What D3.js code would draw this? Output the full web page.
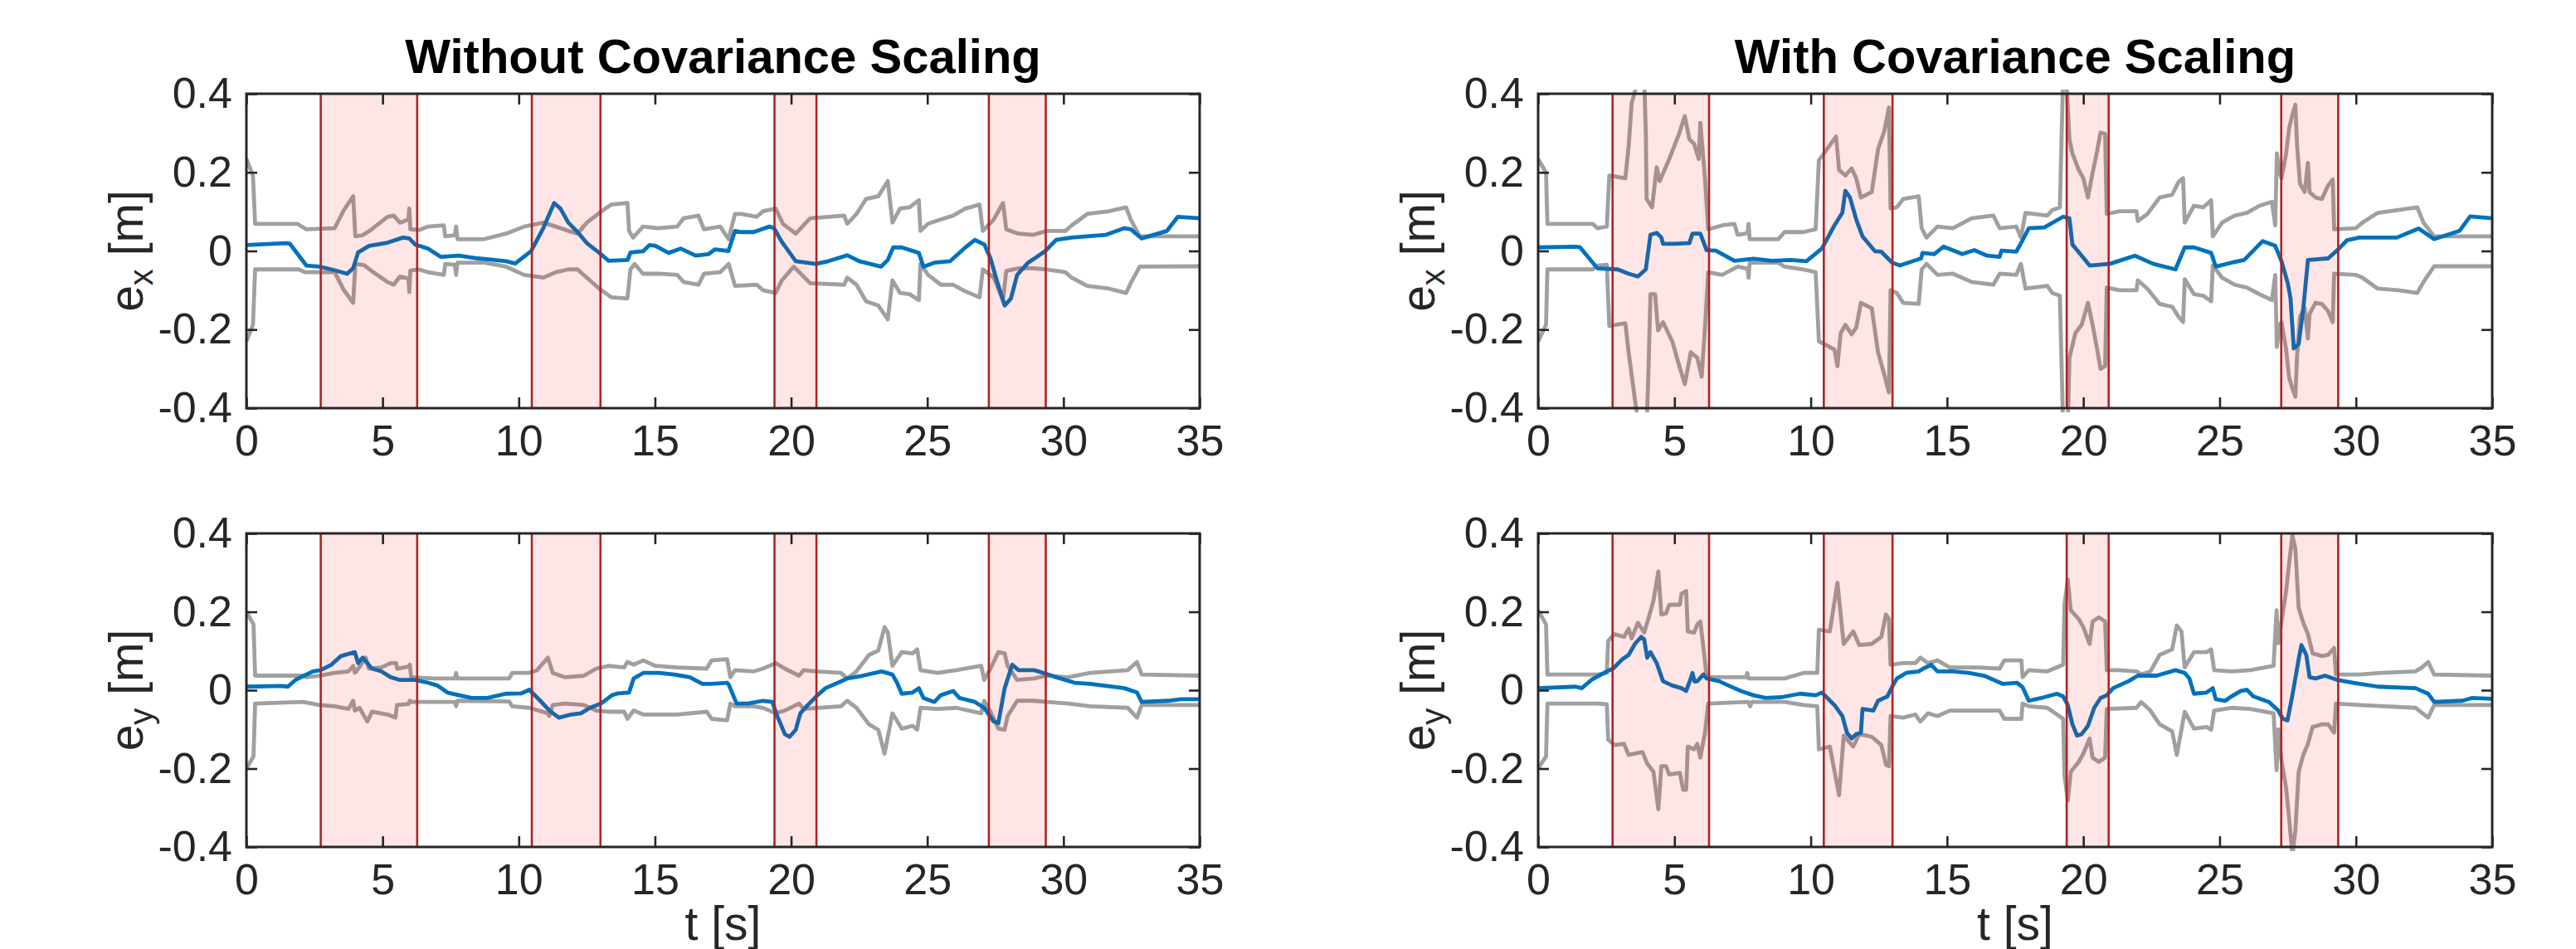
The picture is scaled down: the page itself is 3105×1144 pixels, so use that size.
<!DOCTYPE html>
<html><head><meta charset="utf-8">
<script src="https://cdn.jsdelivr.net/npm/d3@7"></script>
<style>
body{margin:0;background:#fff}
svg{display:block}
text{font-family:"Liberation Sans",Arial,Helvetica,sans-serif}
</style>
</head><body>
<svg id="chart" width="3105" height="1144"></svg>
<script>
// ---------------- data ----------------
const xTicks = [0,5,10,15,20,25,30,35];
const yTicks = [-0.4,-0.2,0,0.2,0.4];
const yTickLabels = ["-0.4","-0.2","0","0.2","0.4"];
const titles = ["Without Covariance Scaling","With Covariance Scaling"];
const xLabel = "t [s]";
const yLabelComponents = ["x","y"];
const shadeIntervals = [[2.73,6.27],[10.48,13.0],[19.39,20.93],[27.26,29.35]];

// e_x without covariance scaling: [t, value]
const exNo = [[0,0.015],[1.46,0.02],[1.6,0.018],[2.2,-0.037],[2.67,-0.04],[3.12,-0.047],[3.7,-0.058],[3.92,-0.044],[4.1,-0.004],[4.5,0.013],[5.18,0.021],[5.75,0.034],[5.98,0.032],[6.2,0.016],[6.67,0.006],[7.13,-0.015],[7.8,-0.012],[8.5,-0.019],[8.96,-0.022],[9.53,-0.026],[9.87,-0.032],[10.45,-0.001],[10.9,0.058],[11.3,0.122],[11.53,0.108],[11.82,0.072],[12.16,0.048],[12.5,0.02],[12.96,-0.005],[13.3,-0.025],[14.0,-0.023],[14.1,-0.004],[14.56,-0.001],[14.8,0.015],[15.02,0.013],[15.5,-0.005],[15.94,0.006],[16.5,-0.012],[16.97,-0.008],[17.2,0.004],[17.7,0.0],[17.94,0.051],[18.17,0.048],[18.63,0.048],[19.2,0.062],[19.37,0.058],[19.66,0.023],[20.17,-0.026],[20.9,-0.033],[21.37,-0.026],[22.06,-0.011],[22.5,-0.026],[23.3,-0.04],[23.55,-0.023],[23.75,0.009],[24.06,0.009],[24.69,-0.005],[24.86,-0.04],[25.26,-0.03],[25.84,-0.026],[26.4,0.009],[26.75,0.028],[27.1,0.016],[27.32,-0.019],[27.55,-0.075],[27.84,-0.139],[28.07,-0.121],[28.3,-0.061],[28.7,-0.03],[29.32,-0.001],[29.73,0.028],[30.3,0.034],[30.87,0.037],[31.56,0.041],[32.24,0.058],[32.47,0.055],[32.87,0.032],[33.8,0.051],[34.2,0.087],[35,0.083]];
const exNoUp = [[0,0.234],[0.24,0.192],[0.32,0.069],[1.87,0.069],[2.2,0.055],[3.24,0.058],[3.58,0.104],[3.92,0.139],[4.0,0.037],[4.27,0.04],[4.6,0.055],[5.18,0.087],[5.41,0.09],[5.64,0.072],[5.95,0.08],[5.98,0.108],[6.02,0.055],[6.33,0.053],[6.67,0.062],[7.25,0.065],[7.3,0.037],[7.65,0.04],[7.7,0.062],[7.75,0.03],[8.73,0.03],[9.53,0.044],[10.2,0.062],[10.9,0.072],[11.36,0.062],[11.82,0.051],[12.16,0.044],[12.5,0.072],[12.96,0.097],[13.4,0.118],[13.99,0.122],[14.05,0.051],[14.2,0.034],[14.56,0.062],[15.13,0.058],[15.82,0.062],[16.05,0.083],[16.6,0.09],[16.8,0.055],[17.4,0.062],[17.7,0.03],[17.94,0.094],[18.17,0.094],[18.74,0.087],[18.97,0.101],[19.43,0.108],[19.7,0.069],[20.17,0.044],[20.7,0.083],[21.95,0.09],[22.06,0.069],[22.4,0.094],[22.75,0.132],[23.2,0.139],[23.55,0.178],[23.72,0.072],[24.0,0.108],[24.35,0.111],[24.69,0.129],[24.75,0.051],[25.03,0.069],[25.5,0.08],[25.95,0.09],[26.4,0.108],[26.92,0.118],[27.04,0.051],[27.44,0.08],[27.78,0.122],[27.9,0.055],[28.35,0.044],[28.9,0.041],[29.38,0.051],[30.07,0.051],[30.3,0.065],[30.87,0.094],[31.67,0.101],[32.3,0.111],[32.47,0.08],[32.8,0.037],[35,0.037]];
const exNoLo = [[0,-0.23],[0.24,-0.188],[0.32,-0.047],[1.92,-0.047],[2.15,-0.054],[3.24,-0.054],[3.58,-0.1],[3.92,-0.132],[4.0,-0.033],[4.32,-0.036],[4.6,-0.051],[5.18,-0.079],[5.41,-0.086],[5.64,-0.065],[5.95,-0.07],[5.98,-0.104],[6.02,-0.05],[6.33,-0.047],[6.67,-0.054],[7.25,-0.061],[7.3,-0.033],[7.65,-0.035],[7.7,-0.061],[7.75,-0.03],[8.73,-0.03],[9.53,-0.04],[10.2,-0.061],[10.9,-0.068],[11.36,-0.054],[11.82,-0.047],[12.16,-0.047],[12.5,-0.068],[12.96,-0.096],[13.4,-0.118],[13.99,-0.121],[14.1,-0.047],[14.25,-0.033],[14.56,-0.058],[15.13,-0.058],[15.82,-0.061],[16.05,-0.079],[16.6,-0.086],[16.8,-0.058],[17.4,-0.054],[17.71,-0.033],[17.94,-0.089],[18.74,-0.086],[18.97,-0.1],[19.43,-0.107],[19.66,-0.075],[20.1,-0.04],[20.7,-0.082],[21.95,-0.086],[22.06,-0.068],[22.4,-0.086],[22.75,-0.128],[23.2,-0.139],[23.55,-0.174],[23.72,-0.075],[24.0,-0.107],[24.35,-0.11],[24.69,-0.125],[24.75,-0.033],[25.03,-0.061],[25.5,-0.086],[25.95,-0.086],[26.4,-0.103],[26.92,-0.118],[27.04,-0.047],[27.44,-0.068],[27.78,-0.125],[27.9,-0.051],[28.35,-0.044],[28.9,-0.044],[29.38,-0.047],[30.07,-0.054],[30.3,-0.068],[30.87,-0.089],[31.67,-0.096],[32.3,-0.107],[32.47,-0.082],[32.8,-0.04],[35,-0.039]];

// e_x with covariance scaling
const exSc = [[0,0.009],[1.37,0.011],[1.54,0.009],[2.17,-0.044],[2.92,-0.047],[3.32,-0.058],[3.66,-0.065],[3.95,-0.047],[4.12,0.041],[4.35,0.046],[4.52,0.034],[4.58,0.018],[5.03,0.018],[5.55,0.02],[5.66,0.044],[5.95,0.044],[6.18,0.002],[6.52,0.001],[7.2,-0.025],[7.9,-0.02],[8.58,-0.025],[9.27,-0.023],[9.84,-0.026],[10.41,0.006],[10.87,0.065],[11.16,0.097],[11.27,0.153],[11.44,0.136],[11.67,0.08],[11.9,0.037],[12.36,-0.001],[12.59,-0.002],[12.99,-0.03],[13.27,-0.037],[14.05,-0.019],[14.1,-0.005],[14.53,-0.008],[14.87,0.011],[15.56,-0.008],[16.0,0.002],[16.47,-0.012],[16.93,-0.015],[17.0,0.001],[17.54,-0.002],[17.77,0.027],[18.0,0.058],[18.57,0.06],[19.26,0.087],[19.49,0.083],[19.6,0.016],[19.94,-0.012],[20.23,-0.037],[20.97,-0.033],[21.89,-0.012],[22.57,-0.033],[23.38,-0.047],[23.72,0.009],[24.06,0.009],[24.69,-0.005],[24.86,-0.04],[25.43,-0.03],[25.9,-0.023],[26.58,0.025],[27.04,0.013],[27.27,-0.026],[27.5,-0.082],[27.6,-0.12],[27.72,-0.248],[27.9,-0.237],[28.07,-0.146],[28.24,-0.023],[28.98,-0.019],[29.32,0.002],[29.67,0.027],[30.13,0.034],[30.8,0.034],[31.5,0.034],[32.3,0.057],[32.87,0.03],[33.8,0.051],[34.19,0.088],[35,0.083]];
const exScUp = [[0,0.234],[0.29,0.199],[0.34,0.069],[2.0,0.069],[2.17,0.058],[2.52,0.062],[2.61,0.192],[3.2,0.185],[3.32,0.266],[3.43,0.375],[3.6,0.42],[3.89,0.44],[3.95,0.3],[3.98,0.132],[4.18,0.111],[4.35,0.213],[4.46,0.178],[4.81,0.234],[5.15,0.294],[5.38,0.343],[5.55,0.284],[5.72,0.273],[5.89,0.234],[5.95,0.326],[6.12,0.185],[6.24,0.055],[6.75,0.065],[7.2,0.069],[7.32,0.041],[7.68,0.045],[7.72,0.069],[7.76,0.03],[8.81,0.03],[9.04,0.048],[9.73,0.048],[10.18,0.055],[10.3,0.231],[10.93,0.291],[11.04,0.206],[11.27,0.192],[11.5,0.21],[11.67,0.185],[11.84,0.136],[12.24,0.15],[12.47,0.259],[12.7,0.305],[12.87,0.365],[12.93,0.108],[13.16,0.111],[13.39,0.132],[13.96,0.139],[14.07,0.058],[14.25,0.034],[14.65,0.062],[15.22,0.058],[15.9,0.083],[16.7,0.09],[16.93,0.058],[17.54,0.062],[17.71,0.034],[17.88,0.097],[18.68,0.09],[18.86,0.104],[19.14,0.111],[19.26,0.45],[19.37,0.45],[19.49,0.284],[19.6,0.248],[19.83,0.206],[20.0,0.185],[20.17,0.136],[20.34,0.199],[20.51,0.255],[20.63,0.301],[20.8,0.298],[20.86,0.094],[21.32,0.101],[21.95,0.101],[22.0,0.076],[22.35,0.094],[22.8,0.136],[23.26,0.143],[23.49,0.175],[23.66,0.185],[23.72,0.072],[24.06,0.115],[24.4,0.111],[24.69,0.129],[24.75,0.037],[25.09,0.072],[25.55,0.09],[26.0,0.097],[26.46,0.115],[26.92,0.125],[27.04,0.065],[27.1,0.248],[27.2,0.2],[27.27,0.185],[27.44,0.248],[27.55,0.312],[27.67,0.347],[27.78,0.372],[27.84,0.27],[27.95,0.171],[28.12,0.15],[28.24,0.224],[28.3,0.15],[28.52,0.136],[28.75,0.132],[28.98,0.167],[29.15,0.182],[29.2,0.055],[30.0,0.058],[30.24,0.072],[30.8,0.097],[31.56,0.104],[32.25,0.111],[32.48,0.072],[32.87,0.037],[35,0.037]];
const exScLo = [[0,-0.23],[0.29,-0.188],[0.34,-0.047],[2.0,-0.047],[2.17,-0.037],[2.52,-0.035],[2.61,-0.191],[3.2,-0.184],[3.32,-0.258],[3.55,-0.378],[3.7,-0.45],[3.98,-0.45],[4.05,-0.3],[4.12,-0.11],[4.29,-0.11],[4.4,-0.202],[4.58,-0.181],[4.92,-0.23],[5.15,-0.286],[5.38,-0.339],[5.6,-0.258],[5.84,-0.272],[6.0,-0.32],[6.12,-0.195],[6.24,-0.054],[6.75,-0.061],[7.32,-0.04],[7.68,-0.045],[7.72,-0.068],[7.76,-0.03],[8.81,-0.03],[9.04,-0.04],[9.73,-0.047],[10.18,-0.054],[10.3,-0.23],[10.87,-0.251],[10.98,-0.293],[11.1,-0.209],[11.27,-0.188],[11.5,-0.212],[11.67,-0.195],[11.84,-0.132],[12.24,-0.146],[12.47,-0.258],[12.7,-0.315],[12.87,-0.36],[12.93,-0.1],[13.16,-0.107],[13.39,-0.132],[13.96,-0.135],[14.07,-0.047],[14.25,-0.033],[14.65,-0.061],[15.22,-0.058],[15.9,-0.079],[16.7,-0.086],[16.93,-0.058],[17.54,-0.061],[17.71,-0.033],[17.88,-0.096],[18.68,-0.089],[18.86,-0.107],[19.14,-0.114],[19.26,-0.45],[19.43,-0.45],[19.49,-0.272],[19.71,-0.209],[19.94,-0.188],[20.17,-0.132],[20.34,-0.188],[20.51,-0.251],[20.63,-0.3],[20.8,-0.293],[20.86,-0.093],[21.32,-0.1],[21.95,-0.1],[22.0,-0.075],[22.35,-0.096],[22.8,-0.135],[23.26,-0.142],[23.49,-0.167],[23.66,-0.181],[23.72,-0.072],[24.06,-0.11],[24.4,-0.114],[24.69,-0.128],[24.75,-0.037],[25.09,-0.068],[25.55,-0.086],[26.0,-0.093],[26.46,-0.11],[26.92,-0.125],[27.04,-0.061],[27.1,-0.244],[27.2,-0.19],[27.27,-0.181],[27.44,-0.251],[27.55,-0.322],[27.67,-0.35],[27.78,-0.371],[27.84,-0.269],[27.95,-0.167],[28.12,-0.146],[28.24,-0.223],[28.3,-0.16],[28.52,-0.132],[28.75,-0.135],[28.98,-0.153],[29.15,-0.181],[29.2,-0.058],[30.0,-0.061],[30.24,-0.068],[30.8,-0.096],[31.56,-0.1],[32.25,-0.107],[32.48,-0.079],[32.87,-0.039],[35,-0.039]];

// e_y without covariance scaling
const eyNo = [[0,0.009],[1.29,0.011],[1.52,0.009],[1.8,0.026],[2.44,0.048],[2.72,0.051],[3.12,0.065],[3.47,0.087],[3.98,0.097],[4.1,0.069],[4.27,0.083],[4.61,0.055],[4.95,0.048],[5.3,0.033],[5.64,0.026],[6.21,0.026],[6.67,0.019],[7.01,0.012],[7.38,-0.006],[7.81,-0.013],[8.27,-0.02],[8.84,-0.02],[9.53,-0.009],[10.1,-0.008],[10.39,0.001],[10.79,-0.027],[11.13,-0.052],[11.47,-0.07],[11.93,-0.062],[12.28,-0.059],[12.62,-0.045],[13.02,-0.034],[13.42,-0.013],[13.65,-0.008],[14.05,-0.006],[14.22,0.03],[14.57,0.044],[15.14,0.044],[15.71,0.04],[16.28,0.033],[16.74,0.016],[17.08,0.016],[17.65,0.019],[17.71,0.014],[18.0,-0.034],[18.4,-0.034],[18.97,-0.027],[19.31,-0.03],[19.49,-0.066],[19.77,-0.112],[19.94,-0.119],[20.17,-0.101],[20.34,-0.059],[20.57,-0.041],[20.92,-0.016],[21.26,0.005],[21.72,0.019],[22.06,0.03],[22.63,0.037],[23.32,0.048],[23.72,0.04],[23.89,0.019],[24.06,-0.009],[24.46,-0.006],[24.69,0.005],[24.86,-0.02],[25.26,-0.03],[25.49,-0.013],[25.95,-0.002],[26.18,-0.02],[26.75,-0.03],[27.09,-0.045],[27.44,-0.08],[27.61,-0.084],[27.84,0.005],[28.12,0.065],[28.35,0.051],[28.92,0.051],[29.27,0.044],[29.73,0.033],[30.41,0.019],[30.98,0.016],[32.24,0.005],[32.7,-0.006],[32.87,-0.03],[33.84,-0.027],[34.3,-0.023],[35,-0.023]];
const eyNoUp = [[0,0.2],[0.26,0.168],[0.32,0.037],[2.09,0.037],[2.2,0.033],[2.67,0.037],[3.24,0.044],[3.75,0.048],[3.92,0.062],[3.98,0.045],[4.04,0.048],[4.38,0.083],[4.5,0.055],[4.95,0.058],[5.3,0.069],[5.5,0.069],[5.53,0.055],[5.95,0.06],[6.0,0.065],[6.05,0.033],[6.9,0.03],[7.65,0.03],[7.7,0.044],[7.75,0.03],[9.65,0.03],[9.76,0.044],[10.39,0.044],[10.67,0.051],[11.07,0.083],[11.25,0.044],[11.7,0.033],[12.39,0.037],[12.85,0.055],[13.31,0.062],[13.87,0.058],[13.99,0.072],[14.22,0.065],[14.57,0.076],[15.02,0.062],[15.82,0.058],[16.9,0.055],[17.08,0.076],[17.65,0.079],[17.77,0.033],[17.94,0.051],[18.63,0.048],[18.97,0.055],[19.43,0.069],[19.77,0.055],[20.29,0.037],[20.46,0.051],[20.92,0.048],[21.83,0.044],[22.06,0.03],[22.4,0.048],[22.86,0.09],[23.2,0.101],[23.43,0.161],[23.55,0.147],[23.72,0.062],[24.06,0.097],[24.46,0.094],[24.63,0.104],[24.75,0.051],[25.38,0.044],[26.06,0.051],[26.98,0.062],[27.09,0.026],[27.32,0.055],[27.61,0.097],[27.84,0.094],[27.95,0.062],[28.3,0.026],[28.92,0.03],[29.38,0.037],[30.18,0.033],[30.98,0.044],[32.36,0.051],[32.7,0.072],[32.87,0.04],[35,0.037]];
const eyNoLo = [[0,-0.2],[0.26,-0.169],[0.32,-0.034],[2.09,-0.03],[2.67,-0.038],[3.24,-0.041],[3.75,-0.048],[3.92,-0.027],[3.98,-0.052],[4.15,-0.045],[4.44,-0.08],[4.61,-0.055],[5.18,-0.062],[5.47,-0.07],[5.53,-0.038],[5.95,-0.035],[6.0,-0.027],[6.05,-0.03],[7.65,-0.03],[7.7,-0.041],[7.75,-0.027],[9.65,-0.029],[9.76,-0.041],[10.39,-0.045],[11.07,-0.059],[11.12,-0.066],[11.25,-0.038],[11.7,-0.034],[12.39,-0.038],[12.85,-0.052],[13.31,-0.055],[13.87,-0.055],[13.99,-0.073],[14.22,-0.052],[14.57,-0.062],[15.82,-0.062],[16.9,-0.055],[17.08,-0.073],[17.65,-0.077],[17.77,-0.034],[17.94,-0.041],[18.63,-0.041],[18.97,-0.045],[19.43,-0.059],[19.77,-0.052],[20.29,-0.034],[20.46,-0.048],[21.83,-0.041],[22.06,-0.027],[22.4,-0.045],[22.86,-0.087],[23.2,-0.101],[23.43,-0.162],[23.72,-0.059],[24.06,-0.098],[24.46,-0.091],[24.63,-0.101],[24.75,-0.045],[25.38,-0.048],[26.06,-0.045],[26.98,-0.059],[27.09,-0.027],[27.32,-0.055],[27.61,-0.098],[27.84,-0.101],[27.95,-0.066],[28.3,-0.027],[28.92,-0.027],[29.38,-0.03],[30.18,-0.034],[30.98,-0.041],[32.36,-0.045],[32.7,-0.07],[32.87,-0.038],[35,-0.038]];

// e_y with covariance scaling
const eySc = [[0,0.005],[1.37,0.009],[1.6,0.005],[1.95,0.026],[2.52,0.048],[2.75,0.055],[3.09,0.079],[3.32,0.09],[3.55,0.118],[3.78,0.136],[3.89,0.13],[4.0,0.083],[4.12,0.097],[4.35,0.069],[4.58,0.023],[4.92,0.012],[5.26,0.005],[5.43,-0.002],[5.6,0.03],[5.66,0.044],[5.74,0.022],[5.84,0.023],[6.06,0.04],[6.18,0.03],[6.64,0.023],[6.98,0.012],[7.44,-0.002],[7.9,-0.013],[8.35,-0.02],[8.92,-0.018],[9.61,-0.009],[10.18,-0.013],[10.41,-0.006],[10.87,-0.038],[11.16,-0.066],[11.33,-0.109],[11.5,-0.123],[11.67,-0.112],[11.84,-0.109],[11.9,-0.048],[12.3,-0.052],[12.47,-0.027],[12.81,-0.016],[12.99,0.009],[13.16,0.03],[13.5,0.044],[13.96,0.048],[14.13,0.055],[14.42,0.065],[14.65,0.048],[15.22,0.048],[15.79,0.044],[16.36,0.037],[17.05,0.016],[17.56,0.019],[17.77,0.008],[18.0,-0.027],[18.46,-0.02],[19.03,-0.009],[19.26,-0.016],[19.43,-0.038],[19.6,-0.087],[19.77,-0.116],[19.94,-0.112],[20.17,-0.091],[20.4,-0.045],[20.63,-0.02],[20.86,-0.013],[21.09,0.005],[21.66,0.023],[22.0,0.037],[22.69,0.037],[23.38,0.051],[23.72,0.044],[23.89,0.03],[24.06,-0.009],[24.52,-0.006],[24.75,0.005],[24.86,-0.023],[25.21,-0.027],[25.43,-0.016],[25.78,-0.002],[26.0,0.001],[26.24,-0.016],[26.81,-0.03],[27.15,-0.052],[27.32,-0.073],[27.49,-0.077],[27.67,-0.013],[27.9,0.079],[28.0,0.115],[28.18,0.09],[28.3,0.033],[28.52,0.03],[28.87,0.037],[29.32,0.026],[29.9,0.019],[30.81,0.009],[32.19,0.005],[32.65,-0.009],[32.87,-0.03],[33.9,-0.027],[34.25,-0.02],[35,-0.022]];
const eyScUp = [[0,0.204],[0.29,0.168],[0.34,0.04],[2.17,0.04],[2.52,0.044],[2.57,0.126],[2.8,0.143],[3.15,0.136],[3.32,0.157],[3.43,0.132],[3.66,0.172],[3.89,0.147],[4.06,0.186],[4.23,0.228],[4.41,0.303],[4.52,0.193],[4.69,0.196],[4.81,0.218],[5.2,0.218],[5.26,0.246],[5.43,0.253],[5.49,0.15],[5.72,0.147],[5.84,0.168],[5.95,0.175],[6.06,0.111],[6.18,0.033],[6.75,0.033],[7.62,0.033],[7.67,0.044],[7.72,0.03],[9.04,0.03],[9.73,0.044],[10.24,0.044],[10.3,0.154],[10.7,0.15],[10.98,0.274],[11.21,0.118],[11.56,0.15],[11.78,0.115],[12.24,0.118],[12.59,0.136],[12.76,0.193],[12.87,0.182],[12.93,0.065],[13.39,0.069],[13.84,0.069],[14.02,0.083],[14.3,0.069],[14.65,0.076],[15.1,0.058],[16.13,0.058],[16.93,0.055],[17.1,0.076],[17.73,0.076],[17.77,0.033],[18.0,0.051],[18.68,0.048],[19.26,0.065],[19.31,0.218],[19.43,0.282],[19.54,0.204],[19.83,0.182],[20.0,0.161],[20.23,0.118],[20.34,0.175],[20.57,0.186],[20.8,0.175],[20.86,0.051],[21.32,0.051],[21.95,0.048],[22.12,0.04],[22.46,0.048],[22.8,0.09],[23.26,0.104],[23.43,0.165],[23.6,0.15],[23.72,0.058],[24.06,0.097],[24.52,0.097],[24.69,0.104],[24.8,0.051],[25.43,0.048],[26.12,0.051],[26.98,0.062],[27.09,0.204],[27.15,0.12],[27.27,0.175],[27.44,0.253],[27.55,0.324],[27.67,0.395],[27.78,0.36],[27.9,0.21],[28.07,0.172],[28.24,0.143],[28.41,0.094],[28.75,0.087],[28.98,0.09],[29.2,0.108],[29.27,0.04],[30.13,0.04],[30.93,0.044],[32.19,0.048],[32.42,0.058],[32.65,0.072],[32.87,0.04],[35,0.037]];
const eyScLo = [[0,-0.2],[0.29,-0.169],[0.34,-0.034],[2.17,-0.034],[2.52,-0.036],[2.57,-0.126],[2.8,-0.14],[3.15,-0.137],[3.32,-0.165],[3.83,-0.158],[4.0,-0.187],[4.23,-0.208],[4.41,-0.304],[4.52,-0.194],[4.69,-0.194],[4.81,-0.215],[5.2,-0.211],[5.32,-0.254],[5.43,-0.254],[5.49,-0.144],[5.72,-0.151],[5.84,-0.137],[5.95,-0.172],[6.12,-0.109],[6.24,-0.034],[7.7,-0.03],[7.78,-0.041],[7.84,-0.03],[9.04,-0.03],[9.73,-0.038],[10.24,-0.041],[10.3,-0.151],[10.7,-0.144],[11.04,-0.268],[11.21,-0.116],[11.56,-0.144],[11.78,-0.112],[12.24,-0.119],[12.59,-0.14],[12.76,-0.19],[12.87,-0.194],[12.93,-0.066],[13.39,-0.07],[13.84,-0.062],[14.02,-0.08],[14.3,-0.059],[14.65,-0.066],[15.1,-0.052],[16.93,-0.052],[17.1,-0.073],[17.73,-0.073],[17.77,-0.034],[18.0,-0.041],[18.68,-0.045],[19.26,-0.073],[19.31,-0.218],[19.43,-0.282],[19.54,-0.208],[19.83,-0.183],[20.0,-0.162],[20.23,-0.123],[20.34,-0.172],[20.57,-0.183],[20.8,-0.172],[20.86,-0.048],[21.95,-0.045],[22.12,-0.03],[22.46,-0.052],[22.8,-0.087],[23.26,-0.105],[23.43,-0.165],[23.72,-0.055],[24.06,-0.098],[24.52,-0.094],[24.69,-0.101],[24.8,-0.052],[25.43,-0.045],[26.12,-0.048],[26.98,-0.059],[27.09,-0.204],[27.15,-0.1],[27.27,-0.179],[27.44,-0.25],[27.55,-0.328],[27.67,-0.42],[27.78,-0.357],[27.9,-0.208],[28.07,-0.165],[28.24,-0.137],[28.41,-0.094],[28.75,-0.087],[28.98,-0.087],[29.2,-0.108],[29.27,-0.034],[30.13,-0.038],[32.19,-0.045],[32.65,-0.07],[32.87,-0.038],[35,-0.038]];

// ---------------- drawing ----------------
const svg = d3.select("#chart");
const FONT = '"Liberation Sans",Arial,Helvetica,sans-serif';
const AX = "#262626";
const colX = [[297,1446],[1854,3004]];
const rowY = [[113,492],[643,1021]];

const panels = [
  {col:0,row:0,err:exNo,up:exNoUp,lo:exNoLo},
  {col:1,row:0,err:exSc,up:exScUp,lo:exScLo},
  {col:0,row:1,err:eyNo,up:eyNoUp,lo:eyNoLo},
  {col:1,row:1,err:eySc,up:eyScUp,lo:eyScLo}
];

panels.forEach((p,i)=>{
  const [x0,x1] = colX[p.col], [y0,y1] = rowY[p.row];
  const x = d3.scaleLinear().domain([0,35]).range([x0,x1]);
  const y = d3.scaleLinear().domain([-0.4,0.4]).range([y1,y0]);
  const g = svg.append("g");
  const cid = "clip"+i;
  svg.append("defs").append("clipPath").attr("id",cid)
    .append("rect").attr("x",x0).attr("y",y0-5).attr("width",x1-x0).attr("height",y1-y0+10);

  const line = d3.line().x(d=>x(d[0])).y(d=>y(d[1])).curve(d3.curveLinear);
  const lg = g.append("g").attr("clip-path",`url(#${cid})`);
  [p.up,p.lo].forEach(s=>{
    lg.append("path").datum(s).attr("d",line).attr("fill","none")
      .attr("stroke","#a0a0a0").attr("stroke-width",4.8)
      .attr("stroke-linejoin","round").attr("stroke-linecap","butt");
  });
  lg.append("path").datum(p.err).attr("d",line).attr("fill","none")
    .attr("stroke","#0072bd").attr("stroke-width",4.8)
    .attr("stroke-linejoin","round");

  // shaded intervals (drawn on top, translucent)
  shadeIntervals.forEach(([a,b])=>{
    g.append("rect").attr("x",x(a)).attr("y",y0).attr("width",x(b)-x(a)).attr("height",y1-y0)
      .attr("fill","rgb(255,0,0)").attr("fill-opacity",0.1);
    [a,b].forEach(v=>{
      g.append("line").attr("x1",x(v)).attr("x2",x(v)).attr("y1",y0).attr("y2",y1)
        .attr("stroke","#b22222").attr("stroke-width",2.6);
    });
  });

  // axes
  const styleAxis = (sel)=>{
    sel.select(".domain").remove();
    sel.selectAll(".tick line").attr("stroke",AX).attr("stroke-width",2.6);
    sel.selectAll(".tick text").attr("fill",AX).style("font-family",FONT).style("font-size","52px");
  };
  g.append("g").attr("transform",`translate(0,${y1})`)
    .call(d3.axisBottom(x).tickValues(xTicks).tickSizeInner(-13).tickSizeOuter(0).tickPadding(20).tickFormat(d3.format("d")))
    .call(styleAxis);
  g.append("g").attr("transform",`translate(0,${y0})`)
    .call(d3.axisTop(x).tickValues(xTicks).tickSizeInner(-13).tickSizeOuter(0).tickFormat(""))
    .call(styleAxis);
  g.append("g").attr("transform",`translate(${x0},0)`)
    .call(d3.axisLeft(y).tickValues(yTicks).tickSizeInner(-13).tickSizeOuter(0).tickPadding(17)
      .tickFormat((d,k)=>yTickLabels[k]))
    .call(styleAxis);
  g.append("g").attr("transform",`translate(${x1},0)`)
    .call(d3.axisRight(y).tickValues(yTicks).tickSizeInner(-13).tickSizeOuter(0).tickFormat(""))
    .call(styleAxis);
  g.append("rect").attr("x",x0).attr("y",y0).attr("width",x1-x0).attr("height",y1-y0)
    .attr("fill","none").attr("stroke",AX).attr("stroke-width",3);

  // titles
  if(p.row===0){
    svg.append("text").attr("x",(x0+x1)/2).attr("y",88).attr("text-anchor","middle")
      .style("font-family",FONT).style("font-size","58px").style("font-weight","bold")
      .attr("fill","#000").text(titles[p.col]);
  }
  // x label
  if(p.row===1){
    svg.append("text").attr("x",(x0+x1)/2).attr("y",1133).attr("text-anchor","middle")
      .style("font-family",FONT).style("font-size","57px").attr("fill",AX).text(xLabel);
  }
  // y label
  const yl = svg.append("text")
    .attr("transform",`translate(${x0-125},${(y0+y1)/2}) rotate(-90)`)
    .attr("text-anchor","middle")
    .style("font-family",FONT).style("font-size","57px").attr("fill",AX);
  yl.append("tspan").text("e");
  yl.append("tspan").attr("dy",12).style("font-size","40px").text(yLabelComponents[p.row]);
  yl.append("tspan").attr("dy",-12).text(" [m]");
});
</script>
</body></html>
